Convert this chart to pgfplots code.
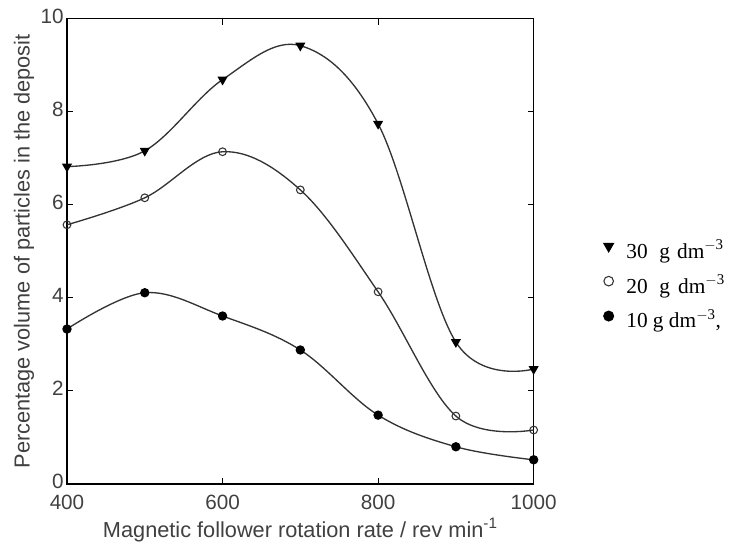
\documentclass[border=0pt]{standalone}
\usepackage{pgfplots}
\pgfplotsset{compat=1.18}
\usepackage{fontspec}
\setmainfont{Liberation Sans}
\newfontfamily\seriffont{Liberation Serif}
\begin{document}
\begin{tikzpicture}[x=0.75pt,y=0.75pt]
\pgfplotstableread{
x y
400 6.82
500 7.16
600 8.69
700 9.42
800 7.74
900 3.05
1000 2.47
}\thirty
\pgfplotstableread{
x y
400 5.57
500 6.15
600 7.14
700 6.32
800 4.13
900 1.46
1000 1.16
}\twenty
\pgfplotstableread{
x y
400 3.33
500 4.11
600 3.61
700 2.88
800 1.48
900 0.80
1000 0.52
}\ten
\begin{axis}[
  at={(0,0)}, anchor=south west,
  scale only axis, width=350pt, height=349pt,
  xmin=400, xmax=1000, ymin=0, ymax=10,
  xtick={400,600,800,1000}, ytick={0,2,4,6,8,10},
  tick align=inside, major tick length=4.5pt,
  axis line style={line width=1pt},
  tick style={line width=0.8pt, black},
  /pgf/number format/assume math mode=true,
  /pgf/number format/1000 sep={},
  ticklabel style={font=\fontsize{15.5}{17}\selectfont, color=black!75},
  xticklabel style={yshift=-4.5pt},
  yticklabel style={xshift=1pt, yshift=2pt},
  xlabel={Magnetic follower rotation rate / rev min\textsuperscript{-1}},
  ylabel={Percentage volume of particles in the deposit},
  label style={font=\fontsize{16.3}{18}\selectfont, color=black!75},
  xlabel style={yshift=0pt},
  ylabel style={yshift=-2pt},
  legend style={draw=none, fill=none, at={(1.148,0.528)}, anchor=north west,
    font=\seriffont\fontsize{16}{18}\selectfont, row sep=9pt,
    inner sep=0pt, nodes={inner sep=1pt}},
  legend cell align=left,
  legend image code/.code={\path[draw=none] (0cm,0cm) -- (0.58cm,0cm); \draw[#1] plot[only marks] coordinates {(0.15cm,0.1cm)};},
]
\addplot[black!80, line width=1pt, smooth, tension=0.6, mark=triangle*, mark size=3.4pt, mark options={rotate=180, fill=black, draw=black},
  legend image post style={mark size=4pt}] table {\thirty};
\addlegendentry{30\hspace{0.55em}g\hspace{0.33em}dm\textsuperscript{$-$3}}
\addplot[black!80, line width=1pt, smooth, tension=0.6, mark=o, mark size=2.9pt, mark options={fill=white, draw=black!80, line width=0.8pt},
  legend image post style={mark size=3.6pt}] table {\twenty};
\addlegendentry{20\hspace{0.55em}g\hspace{0.38em}dm\textsuperscript{$-$3}}
\addplot[black!80, line width=1pt, smooth, tension=0.6, mark=*, mark size=3pt, mark options={fill=black, draw=black},
  legend image post style={mark size=3.6pt}] table {\ten};
\addlegendentry{10 g dm\textsuperscript{$-$3},}
\end{axis}
\pgfresetboundingbox
\path (-67,-64) rectangle (669,484);
\end{tikzpicture}
\end{document}
